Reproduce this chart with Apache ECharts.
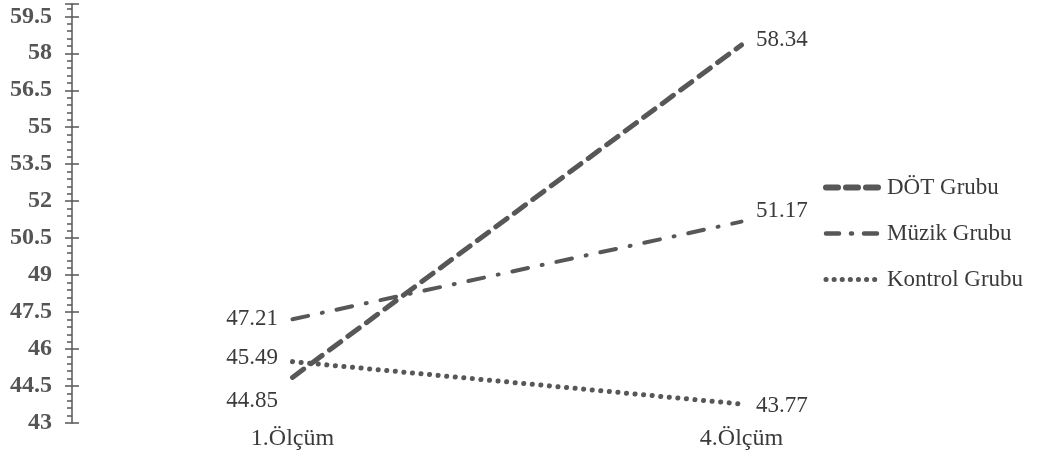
<!DOCTYPE html>
<html><head><meta charset="utf-8">
<script src="https://cdn.jsdelivr.net/npm/echarts@6/dist/echarts.min.js"></script>
<style>html,body{margin:0;padding:0;background:#fff}#c{width:1041px;height:474px}</style>
</head><body><div id="c"></div>
<script>
const categories = ['1.Ölçüm', '4.Ölçüm'];
const seriesNames = ['DÖT Grubu', 'Müzik Grubu', 'Kontrol Grubu'];
const dotValues = [44.85, 58.34];
const muzikValues = [47.21, 51.17];
const kontrolValues = [45.49, 43.77];
const yMin = 43, yMax = 60, yInterval = 1.5;

const FONT = '"Liberation Serif", "Times New Roman", serif';
const LINE = '#575757';
const TEXT = '#3a3a3a';

const styles = [
  {color: LINE, width: 5, type: [14, 9], cap: 'round'},
  {color: LINE, width: 4, type: [16, 14, 1, 14], cap: 'round'},
  {color: LINE, width: 5, type: [0.1, 8.5], cap: 'round'}
];
const legendStyles = [
  {color: LINE, width: 6, type: [12, 8], cap: 'round'},
  {color: LINE, width: 4.5, type: [13, 12, 1, 12], cap: 'round'},
  {color: LINE, width: 5, type: [0.1, 8], cap: 'round'}
];

// label vertical nudges per point (layout only)
function items(vals, offs) {
  return vals.map((v, i) => ({
    value: v,
    label: {
      show: true,
      position: i === 0 ? 'left' : 'right',
      distance: 14,
      offset: [0, offs[i]],
      formatter: v.toFixed(2),
      fontFamily: FONT, fontSize: 23, color: TEXT
    }
  }));
}

function mkSeries(i, vals, offs) {
  return {
    name: seriesNames[i], type: 'line', data: items(vals, offs),
    symbol: 'circle', symbolSize: 1, showSymbol: true,
    lineStyle: styles[i], itemStyle: {color: 'rgba(0,0,0,0)', borderWidth: 0},
    emphasis: {disabled: true}
  };
}

const chart = echarts.init(document.getElementById('c'), null, {renderer: 'canvas'});
chart.setOption({
  animation: false,
  grid: {left: 68, width: 898, top: 4, bottom: 51},
  legend: {
    orient: 'vertical', left: 818, top: 171, itemGap: 23, itemWidth: 56, itemHeight: 24,
    textStyle: {fontFamily: FONT, fontSize: 23, color: TEXT, padding: [0, 0, 0, 0]},
    itemStyle: {color: 'rgba(0,0,0,0)', borderWidth: 0},
    data: seriesNames.map((n, i) => ({name: n, lineStyle: legendStyles[i], itemStyle: {color: 'rgba(0,0,0,0)', borderWidth: 0}}))
  },
  xAxis: {
    type: 'category', data: categories, boundaryGap: true,
    axisLine: {show: false}, axisTick: {show: false},
    axisLabel: {fontFamily: FONT, fontSize: 24, color: TEXT, margin: 4}
  },
  yAxis: [{
    type: 'value', min: yMin, max: yMax, interval: yInterval, offset: -4,
    splitLine: {show: false},
    axisLine: {show: true, lineStyle: {color: LINE, width: 1.5}},
    axisTick: {show: true, length: 7, lineStyle: {color: LINE, width: 1.5}},
    minorTick: {show: true, splitNumber: 5, length: 5, lineStyle: {color: LINE, width: 1.5}},
    axisLabel: {fontFamily: FONT, fontSize: 24, fontWeight: 'bold', color: '#555', margin: 20, showMaxLabel: false}
  }, {
    type: 'value', min: yMin, max: yMax, interval: yInterval, offset: -4, position: 'left',
    splitLine: {show: false}, axisLine: {show: false},
    axisTick: {show: true, inside: true, length: 7, lineStyle: {color: LINE, width: 1.5}},
    axisLabel: {show: false}
  }],
  series: [
    mkSeries(0, dotValues, [24, -5]),
    mkSeries(1, muzikValues, [0, -11]),
    mkSeries(2, kontrolValues, [-4, 2])
  ]
});
</script></body></html>
